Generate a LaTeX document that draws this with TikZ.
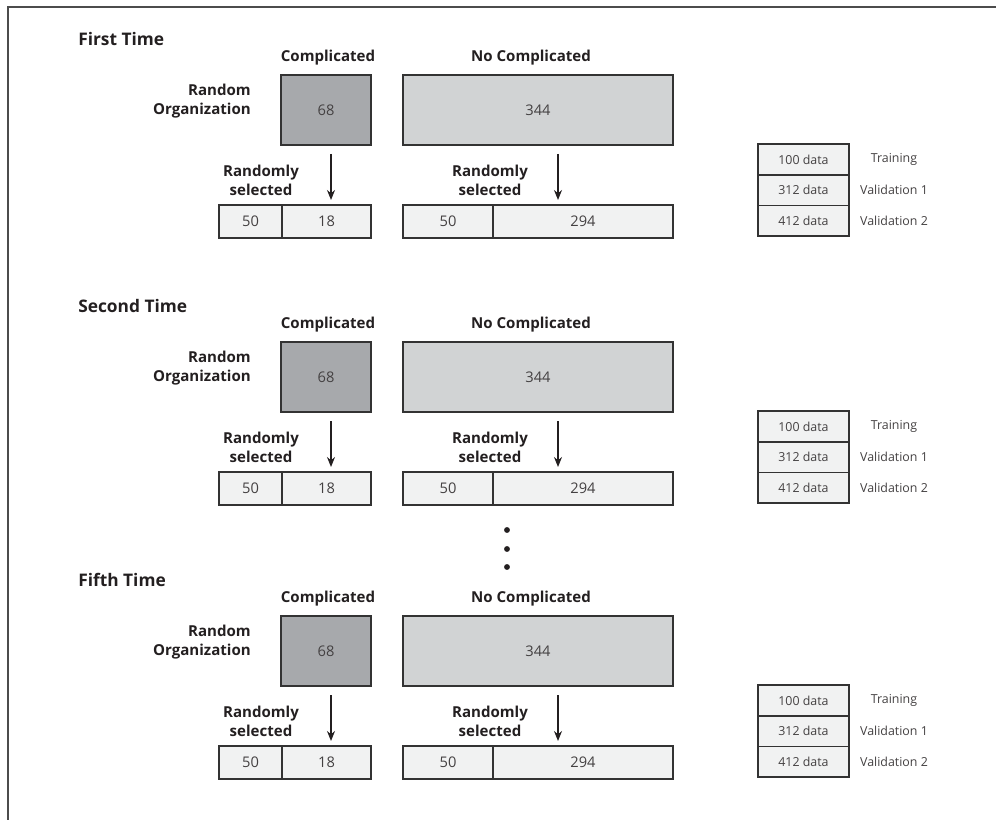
\documentclass[tikz,border=0pt]{standalone}
\usepackage{fontspec}
\setmainfont{Open Sans}
\usetikzlibrary{
  positioning,
  calc,
  arrows.meta
}
\definecolor{compfill}{HTML}{A7A9AC}
\definecolor{nocompfill}{HTML}{D1D3D4}
\definecolor{cellfill}{HTML}{F1F2F2}
\definecolor{edge}{HTML}{333333}
\definecolor{ink}{HTML}{231F20}

\begin{document}
\begin{tikzpicture}[
      x=0.75pt, y=-0.75pt,
      >={Stealth[length=7.5pt,width=6pt]},
      bigbox/.style={
        rectangle,
        draw=edge,
        line width=1.1pt,
        minimum height=52.5pt,
        inner sep=0pt,
        outer sep=0pt,
        text=ink!85,
        font=\fontsize{11}{13}\selectfont
      },
      cell/.style={
        rectangle,
        draw=edge,
        fill=cellfill,
        line width=1.1pt,
        minimum height=24.75pt,
        inner sep=0pt,
        outer sep=0pt,
        text=ink!85,
        font=\fontsize{11}{13}\selectfont
      },
      legcell/.style={
        cell,
        minimum width=68.25pt,
        minimum height=23pt,
        font=\fontsize{9.3}{11}\selectfont
      },
      legtext/.style={
        inner sep=0pt,
        text=ink!85,
        font=\fontsize{9.3}{11}\selectfont
      },
      head/.style={
        inner sep=0pt,
        text=ink,
        font=\fontsize{11.3}{14.3}\selectfont\bfseries
      },
      side/.style={head, align=right, anchor=east},
      pick/.style={head, align=center},
      title/.style={
        inner sep=0pt,
        anchor=west,
        text=ink,
        font=\fontsize{13}{15}\selectfont\bfseries
      },
      flow/.style={
        ->,
        line width=1pt,
        draw=ink,
        shorten >=3.75pt
      },
      frame/.style={
        line width=1.5pt,
        draw=black!70
      }
    ]

    \useasboundingbox (0,0) rectangle (996,820);

    % Rows
    \coordinate (row1) at (0,0);
    \coordinate (row2) at (0,267);
    \coordinate (row3) at (0,541);

    % Frame
    \draw[frame] (8,820) -- (8,7) -- (996,7);

    % First Time
    \node[title] (time1) at ($(row1)+(78,39)$) {First Time};
    \node[bigbox, fill=compfill, minimum width=67.5pt] (comp1)
      at ($(row1)+(326,110)$) {68};
    \node[bigbox, fill=nocompfill, minimum width=202.5pt] (nocomp1)
      at ($(row1)+(538,110)$) {344};
    \node[head, above=7pt of comp1, xshift=1.5pt] (comphead1) {Complicated};
    \node[head, above=7pt of nocomp1, xshift=-5.25pt] (nocomphead1) {No Complicated};
    \node[side] (org1) at ($(comp1.west)+(-30,-9)$) {Random\\Organization};

    \node[cell, minimum width=47.25pt] (ctrain1) at ($(row1)+(250.5,221.5)$) {50};
    \node[cell, minimum width=66.75pt, right=0pt of ctrain1] (crest1) {18};
    \node[cell, minimum width=67.5pt] (ntrain1) at ($(row1)+(448,221.5)$) {50};
    \node[cell, minimum width=135pt, right=0pt of ntrain1] (nrest1) {294};

    \coordinate (cdrop1) at ($(comp1.south)+(5,9)$);
    \draw[flow] (cdrop1) -- (cdrop1 |- crest1.north);
    \node[pick] (cpick1) at ($(cdrop1)+(-70,26)$) {Randomly\\selected};
    \coordinate (ndrop1) at ($(nocomp1.south)+(20,9)$);
    \draw[flow] (ndrop1) -- (ndrop1 |- nrest1.north);
    \node[pick] (npick1) at ($(ndrop1)+(-68,26)$) {Randomly\\selected};

    \node[legcell] (train1) at ($(row1)+(803.5,159.5)$) {100 data};
    \node[legcell, below=0pt of train1] (valone1) {312 data};
    \node[legcell, below=0pt of valone1] (valtwo1) {412 data};
    \node[legtext] (trainlbl1) at ($(train1.east)+(45,0)$) {Training};
    \node[legtext] (valonelbl1) at ($(valone1.east)+(45,0)$) {Validation 1};
    \node[legtext] (valtwolbl1) at ($(valtwo1.east)+(45,0)$) {Validation 2};

    % Second Time
    \node[title] (time2) at ($(row2)+(78,39)$) {Second Time};
    \node[bigbox, fill=compfill, minimum width=67.5pt] (comp2)
      at ($(row2)+(326,110)$) {68};
    \node[bigbox, fill=nocompfill, minimum width=202.5pt] (nocomp2)
      at ($(row2)+(538,110)$) {344};
    \node[head, above=7pt of comp2, xshift=1.5pt] (comphead2) {Complicated};
    \node[head, above=7pt of nocomp2, xshift=-5.25pt] (nocomphead2) {No Complicated};
    \node[side] (org2) at ($(comp2.west)+(-30,-9)$) {Random\\Organization};

    \node[cell, minimum width=47.25pt] (ctrain2) at ($(row2)+(250.5,221.5)$) {50};
    \node[cell, minimum width=66.75pt, right=0pt of ctrain2] (crest2) {18};
    \node[cell, minimum width=67.5pt] (ntrain2) at ($(row2)+(448,221.5)$) {50};
    \node[cell, minimum width=135pt, right=0pt of ntrain2] (nrest2) {294};

    \coordinate (cdrop2) at ($(comp2.south)+(5,9)$);
    \draw[flow] (cdrop2) -- (cdrop2 |- crest2.north);
    \node[pick] (cpick2) at ($(cdrop2)+(-70,26)$) {Randomly\\selected};
    \coordinate (ndrop2) at ($(nocomp2.south)+(20,9)$);
    \draw[flow] (ndrop2) -- (ndrop2 |- nrest2.north);
    \node[pick] (npick2) at ($(ndrop2)+(-68,26)$) {Randomly\\selected};

    \node[legcell] (train2) at ($(row2)+(803.5,159.5)$) {100 data};
    \node[legcell, below=0pt of train2] (valone2) {312 data};
    \node[legcell, below=0pt of valone2] (valtwo2) {412 data};
    \node[legtext] (trainlbl2) at ($(train2.east)+(45,0)$) {Training};
    \node[legtext] (valonelbl2) at ($(valone2.east)+(45,0)$) {Validation 1};
    \node[legtext] (valtwolbl2) at ($(valtwo2.east)+(45,0)$) {Validation 2};

    % Dots
    \fill[ink] (507,530) circle (2.2pt);
    \fill[ink] (507,549) circle (2.2pt);
    \fill[ink] (507,567) circle (2.2pt);

    % Fifth Time
    \node[title] (time3) at ($(row3)+(78,39)$) {Fifth Time};
    \node[bigbox, fill=compfill, minimum width=67.5pt] (comp3)
      at ($(row3)+(326,110)$) {68};
    \node[bigbox, fill=nocompfill, minimum width=202.5pt] (nocomp3)
      at ($(row3)+(538,110)$) {344};
    \node[head, above=7pt of comp3, xshift=1.5pt] (comphead3) {Complicated};
    \node[head, above=7pt of nocomp3, xshift=-5.25pt] (nocomphead3) {No Complicated};
    \node[side] (org3) at ($(comp3.west)+(-30,-9)$) {Random\\Organization};

    \node[cell, minimum width=47.25pt] (ctrain3) at ($(row3)+(250.5,221.5)$) {50};
    \node[cell, minimum width=66.75pt, right=0pt of ctrain3] (crest3) {18};
    \node[cell, minimum width=67.5pt] (ntrain3) at ($(row3)+(448,221.5)$) {50};
    \node[cell, minimum width=135pt, right=0pt of ntrain3] (nrest3) {294};

    \coordinate (cdrop3) at ($(comp3.south)+(5,9)$);
    \draw[flow] (cdrop3) -- (cdrop3 |- crest3.north);
    \node[pick] (cpick3) at ($(cdrop3)+(-70,26)$) {Randomly\\selected};
    \coordinate (ndrop3) at ($(nocomp3.south)+(20,9)$);
    \draw[flow] (ndrop3) -- (ndrop3 |- nrest3.north);
    \node[pick] (npick3) at ($(ndrop3)+(-68,26)$) {Randomly\\selected};

    \node[legcell] (train3) at ($(row3)+(803.5,159.5)$) {100 data};
    \node[legcell, below=0pt of train3] (valone3) {312 data};
    \node[legcell, below=0pt of valone3] (valtwo3) {412 data};
    \node[legtext] (trainlbl3) at ($(train3.east)+(45,0)$) {Training};
    \node[legtext] (valonelbl3) at ($(valone3.east)+(45,0)$) {Validation 1};
    \node[legtext] (valtwolbl3) at ($(valtwo3.east)+(45,0)$) {Validation 2};

    \end{tikzpicture}
\end{document}
